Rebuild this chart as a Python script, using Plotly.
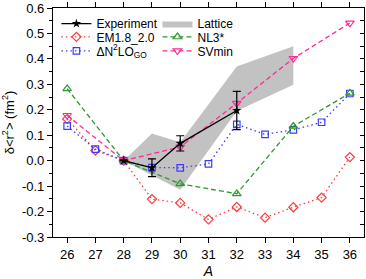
import plotly.graph_objects as go

# ---- data ----
A_all = [26, 27, 28, 29, 30, 31, 32, 33, 34, 35, 36]
A_even = [26, 28, 30, 32, 34, 36]

exp_A = [28, 29, 30, 32]
exp_val = [0.0, -0.028, 0.068, 0.197]
exp_err = [0.0, 0.035, 0.030, 0.075]

em_val = [0.164, 0.040, 0.0, -0.151, -0.166, -0.231, -0.182, -0.224, -0.183, -0.145, 0.014]
dn2lo_val = [0.136, 0.045, 0.0, -0.027, -0.028, -0.013, 0.143, 0.103, 0.121, 0.151, 0.264]
nl3_val = [0.283, 0.0, -0.091, -0.130, 0.135, 0.265]
svmin_val = [0.178, 0.0, 0.054, 0.226, 0.402, 0.541]

lat_A = [28, 29, 30, 32, 34]
lat_upper = [0.0, 0.107, 0.072, 0.370, 0.450]
lat_lower = [0.0, -0.057, -0.114, 0.195, 0.298]

x_ticks = [26, 27, 28, 29, 30, 31, 32, 33, 34, 35, 36]
y_ticks = [-0.3, -0.2, -0.1, 0.0, 0.1, 0.2, 0.3, 0.4, 0.5, 0.6]
y_ticktext = ["-0.3", "-0.2", "-0.1", "0.0", "0.1", "0.2", "0.3", "0.4", "0.5", "0.6"]
y_minor = [-0.25, -0.15, -0.05, 0.05, 0.15, 0.25, 0.35, 0.45, 0.55]

FONT = "Arial, Liberation Sans, sans-serif"
RED = "#FF3B3B"
BLUE = "#3B3BFF"
GREEN = "#2A9A2A"
PINK = "#FF2A95"
GRAY = "#C2C2C2"

fig = go.Figure()

# Lattice band
fig.add_trace(go.Scatter(
    x=lat_A + lat_A[::-1], y=lat_upper + lat_lower[::-1],
    fill="toself", fillcolor=GRAY, line=dict(width=0, color=GRAY),
    mode="lines", name="Lattice", legend="legend4", hoverinfo="skip"))

fig.add_trace(go.Scatter(
    x=A_all, y=em_val, mode="lines+markers", name="EM1.8_2.0", legend="legend2",
    line=dict(color=RED, width=1.3, dash="1.5px,3px"),
    marker=dict(symbol="diamond-open", size=7, color=RED, line=dict(width=1.2))))

fig.add_trace(go.Scatter(
    x=A_all, y=dn2lo_val, mode="lines+markers", name="ΔN<sup>2</sup>LO<sub>GO</sub>", legend="legend3",
    line=dict(color=BLUE, width=1.3, dash="1.5px,3px"),
    marker=dict(symbol="square-open", size=6.5, color=BLUE, line=dict(width=1.2))))

fig.add_trace(go.Scatter(
    x=A_even, y=nl3_val, mode="lines+markers", name="NL3*", legend="legend5",
    line=dict(color=GREEN, width=1.3, dash="5px,3px"),
    marker=dict(symbol="triangle-up-open", size=7.5, color=GREEN, line=dict(width=1.2))))

fig.add_trace(go.Scatter(
    x=A_even, y=svmin_val, mode="lines+markers", name="SVmin", legend="legend6",
    line=dict(color=PINK, width=1.3, dash="5px,3px"),
    marker=dict(symbol="triangle-down-open", size=7.5, color=PINK, line=dict(width=1.2))))

fig.add_trace(go.Scatter(
    x=exp_A, y=exp_val, mode="lines+markers", name="Experiment", legend="legend",
    line=dict(color="black", width=1.3),
    marker=dict(symbol="star", size=7, color="black"),
    error_y=dict(type="data", array=exp_err, color="black", thickness=1.2, width=4)))

# dummy trace on right axis for inward mirrored ticks
fig.add_trace(go.Scatter(x=[None], y=[None], yaxis="y2", showlegend=False, hoverinfo="skip"))

axis_common = dict(showline=True, linecolor="black", linewidth=1.2, showgrid=False,
                   zeroline=False, tickcolor="black", tickwidth=1.2)

def leg(x, y):
    return dict(x=x, y=y, xanchor="left", yanchor="middle", bgcolor="rgba(0,0,0,0)",
                font=dict(size=12), borderwidth=0)

c1, c2 = 0.011, 0.336
r1, r2, r3 = 0.932, 0.874, 0.813

fig.update_layout(
    width=366, height=279,
    margin=dict(l=53, r=1, t=5, b=42),
    paper_bgcolor="white", plot_bgcolor="white",
    font=dict(family=FONT, size=13, color="black"),
    xaxis=dict(range=[25.5, 36.5], tickvals=x_ticks, ticks="outside", ticklen=5,
               mirror="ticks", title=dict(text="<i>A</i>", font=dict(size=14), standoff=6),
               **axis_common),
    yaxis=dict(range=[-0.3, 0.6], tickvals=y_ticks, ticktext=y_ticktext, ticks="outside",
               ticklen=5, mirror=True, ticklabeloverflow="allow",
               minor=dict(tickvals=y_minor, ticks="outside", ticklen=3, tickcolor="black", tickwidth=1.2),
               title=dict(text="δ&lt;r<sup>2</sup>&gt; (fm<sup>2</sup>)", font=dict(size=13), standoff=4),
               **axis_common),
    yaxis2=dict(range=[-0.3, 0.6], overlaying="y", side="right", tickvals=y_ticks,
                showticklabels=False, ticks="inside", ticklen=4, showline=False,
                showgrid=False, zeroline=False, tickcolor="black", tickwidth=1.2,
                minor=dict(tickvals=y_minor, ticks="inside", ticklen=4, tickcolor="black", tickwidth=1.2)),
    legend=leg(c1, r1),
    legend2=leg(c1, r2),
    legend3=leg(c1, r3),
    legend4=leg(c2, r1),
    legend5=leg(c2, r2),
    legend6=leg(c2, r3),
    showlegend=True,
)

fig.write_html("out.html", config={"displayModeBar": False},
               post_script="document.body.style.margin='0px';")
